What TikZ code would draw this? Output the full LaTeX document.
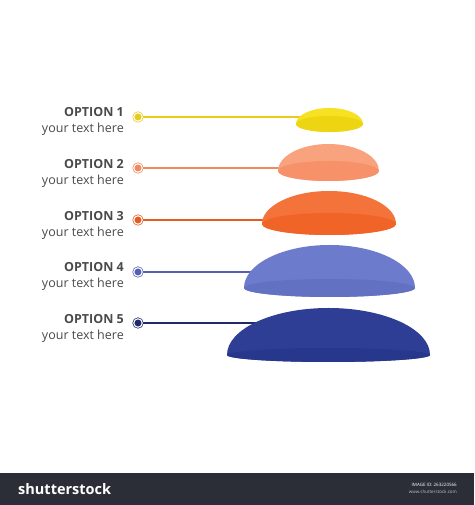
\documentclass[tikz,border=0pt]{standalone}
\usepackage{fontspec}
\setmainfont{Open Sans}
\usetikzlibrary{positioning}
\definecolor{TextClr}{HTML}{4A4A4A}
\definecolor{BarClr}{HTML}{2B2E37}
\definecolor{YelTop}{HTML}{F6E223}
\definecolor{YelBot}{HTML}{EDD512}
\definecolor{YelLine}{HTML}{E9CB1C}
\definecolor{SalTop}{HTML}{F9A27E}
\definecolor{SalBot}{HTML}{F7916A}
\definecolor{SalLine}{HTML}{EE8A5C}
\definecolor{OrTop}{HTML}{F4733A}
\definecolor{OrBot}{HTML}{F06428}
\definecolor{OrLine}{HTML}{E45C22}
\definecolor{BlTop}{HTML}{6C7BCB}
\definecolor{BlBot}{HTML}{6371C3}
\definecolor{BlLine}{HTML}{5461B3}
\definecolor{DbTop}{HTML}{2E3E95}
\definecolor{DbBot}{HTML}{27378C}
\definecolor{DbLine}{HTML}{1F2A6B}

% centre, rx, ry top, ry rim, top colour, rim colour
\newcommand{\DrawDome}[6]{%
  \begin{scope}[shift={(#1)}]
    \fill[#5] (-#2,0) arc[start angle=180,end angle=0,x radius=#2,y radius=#3]
      arc[start angle=0,end angle=-180,x radius=#2,y radius=#4] -- cycle;
    \fill[#6] (0,0) ellipse[x radius=#2,y radius=#4];
  \end{scope}}

\tikzset{
  opt/.style={anchor=east,text=TextClr,font=\fontsize{12.5}{14}\selectfont\bfseries,inner sep=0pt},
  txt/.style={anchor=east,text=TextClr,font=\fontsize{12.5}{14}\selectfont,inner sep=0pt},
  mark/.style={circle,draw=#1,fill=#1,line width=0.7pt,double=white,double distance=1.1pt,
    inner sep=0pt,minimum size=8.5pt},
  link/.style={draw=#1,line width=2.2pt}
}

\begin{document}
\begin{tikzpicture}[x=1pt,y=1pt]
\useasboundingbox (0,0) rectangle (474,505);
\fill[white] (0,0) rectangle (474,505);

\coordinate (d1) at (329.5,388);
\coordinate (d2) at (328.5,337);
\coordinate (d3) at (329,285);
\coordinate (d4) at (329.5,233);
\coordinate (d5) at (328.5,182);

\node[mark=YelLine] (m1) at (138,388) {};
\node[mark=SalLine] (m2) at (138,337) {};
\node[mark=OrLine] (m3) at (138,285) {};
\node[mark=BlLine] (m4) at (138,233) {};
\node[mark=DbLine] (m5) at (138,182) {};

\draw[link=YelLine] (m1) -- (d1);
\draw[link=SalLine] (m2) -- (d2);
\draw[link=OrLine] (m3) -- (d3);
\draw[link=BlLine] (m4) -- (d4);
\draw[link=DbLine] (m5) -- (d5);

\DrawDome{329.5,381}{33.5}{16}{8}{YelTop}{YelBot}
\DrawDome{328.5,334}{50.5}{27}{10}{SalTop}{SalBot}
\DrawDome{329,281}{67}{33}{11}{OrTop}{OrBot}
\DrawDome{329.5,217}{85.5}{43}{9}{BlTop}{BlBot}
\DrawDome{328.5,150}{101.5}{47}{7}{DbTop}{DbBot}

\node[opt] (o1) at (124,393) {OPTION 1};
\node[txt] (t1) at (124,376) {your text here};
\node[opt] (o2) at (124,341) {OPTION 2};
\node[txt] (t2) at (124,324) {your text here};
\node[opt] (o3) at (124,289) {OPTION 3};
\node[txt] (t3) at (124,272) {your text here};
\node[opt] (o4) at (124,238) {OPTION 4};
\node[txt] (t4) at (124,221) {your text here};
\node[opt] (o5) at (124,186) {OPTION 5};
\node[txt] (t5) at (124,169) {your text here};

\fill[BarClr] (0,0) rectangle (474,32);
\node[anchor=west,text=white,font=\fontsize{14.5}{17}\selectfont\bfseries,inner sep=0pt] (logo) at (18,16) {shutterstock};
\node[anchor=east,text=white,font=\fontsize{4.5}{5}\selectfont,inner sep=0pt] (imgid) at (457,20) {IMAGE ID: 263220566};
\node[anchor=east,text=white!70!BarClr,font=\fontsize{4.5}{5}\selectfont,inner sep=0pt] (site) at (457,13) {www.shutterstock.com};
\end{tikzpicture}
\end{document}
